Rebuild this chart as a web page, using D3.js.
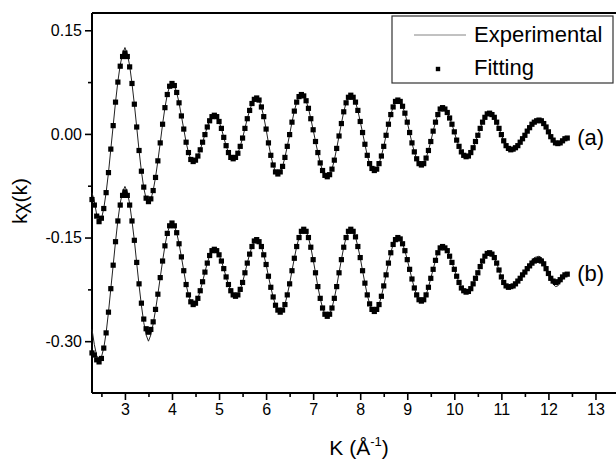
<!DOCTYPE html>
<html lang="en">
<head>
    <meta charset="UTF-8">
    <title>EXAFS k-weighted chi(k)</title>
    <script src="https://d3js.org/d3.v7.min.js"></script>
    <style>
        body { margin: 0; background: #fff; }
        svg { display: block; font-family: "Liberation Sans", Arial, sans-serif; }
        .tick-label { font-size: 16px; fill: #000; }
        .axis-title { font-size: 21px; fill: #000; }
        .legend-text { font-size: 22px; fill: #000; }
    </style>
</head>
<body>
<svg width="616" height="461"></svg>
<script>
    // k grid (1/Angstrom)
    const kGrid = [
        2.30,2.35,2.40,2.45,2.50,2.55,2.60,2.65,2.70,2.75,
        2.80,2.85,2.90,2.95,3.00,3.05,3.10,3.15,3.20,3.25,
        3.30,3.35,3.40,3.45,3.50,3.55,3.60,3.65,3.70,3.75,
        3.80,3.85,3.90,3.95,4.00,4.05,4.10,4.15,4.20,4.25,
        4.30,4.35,4.40,4.45,4.50,4.55,4.60,4.65,4.70,4.75,
        4.80,4.85,4.90,4.95,5.00,5.05,5.10,5.15,5.20,5.25,
        5.30,5.35,5.40,5.45,5.50,5.55,5.60,5.65,5.70,5.75,
        5.80,5.85,5.90,5.95,6.00,6.05,6.10,6.15,6.20,6.25,
        6.30,6.35,6.40,6.45,6.50,6.55,6.60,6.65,6.70,6.75,
        6.80,6.85,6.90,6.95,7.00,7.05,7.10,7.15,7.20,7.25,
        7.30,7.35,7.40,7.45,7.50,7.55,7.60,7.65,7.70,7.75,
        7.80,7.85,7.90,7.95,8.00,8.05,8.10,8.15,8.20,8.25,
        8.30,8.35,8.40,8.45,8.50,8.55,8.60,8.65,8.70,8.75,
        8.80,8.85,8.90,8.95,9.00,9.05,9.10,9.15,9.20,9.25,
        9.30,9.35,9.40,9.45,9.50,9.55,9.60,9.65,9.70,9.75,
        9.80,9.85,9.90,9.95,10.00,10.05,10.10,10.15,10.20,10.25,
        10.30,10.35,10.40,10.45,10.50,10.55,10.60,10.65,10.70,10.75,
        10.80,10.85,10.90,10.95,11.00,11.05,11.10,11.15,11.20,11.25,
        11.30,11.35,11.40,11.45,11.50,11.55,11.60,11.65,11.70,11.75,
        11.80,11.85,11.90,11.95,12.00,12.05,12.10,12.15,12.20,12.25,
        12.30,12.35,12.40
    ];

    // sample (a), fitted values
    const fitA = [
        -0.095,-0.103,-0.119,-0.127,-0.122,-0.108,-0.085,-0.056,-0.022,0.012,
        0.046,0.075,0.098,0.112,0.117,0.112,0.097,0.073,0.043,0.010,
        -0.024,-0.054,-0.077,-0.093,-0.098,-0.094,-0.082,-0.063,-0.039,-0.013,
        0.014,0.038,0.057,0.069,0.073,0.070,0.060,0.045,0.026,0.007,
        -0.012,-0.027,-0.037,-0.040,-0.038,-0.032,-0.023,-0.012,-0.001,0.010,
        0.019,0.025,0.027,0.025,0.018,0.008,-0.005,-0.017,-0.027,-0.034,
        -0.036,-0.034,-0.028,-0.018,-0.006,0.008,0.022,0.034,0.044,0.050,
        0.052,0.049,0.039,0.025,0.007,-0.013,-0.031,-0.045,-0.055,-0.058,
        -0.055,-0.047,-0.034,-0.018,-0.001,0.017,0.033,0.046,0.054,0.057,
        0.055,0.048,0.037,0.022,0.006,-0.011,-0.027,-0.042,-0.053,-0.060,
        -0.062,-0.059,-0.051,-0.038,-0.021,-0.003,0.015,0.032,0.045,0.053,
        0.056,0.053,0.046,0.034,0.018,0.002,-0.015,-0.031,-0.043,-0.050,
        -0.053,-0.051,-0.043,-0.032,-0.018,-0.002,0.014,0.028,0.039,0.047,
        0.049,0.047,0.040,0.030,0.017,0.002,-0.013,-0.026,-0.036,-0.043,
        -0.045,-0.043,-0.035,-0.024,-0.011,0.004,0.017,0.028,0.036,0.038,
        0.036,0.031,0.023,0.014,0.003,-0.009,-0.018,-0.026,-0.031,-0.033,
        -0.032,-0.027,-0.020,-0.011,-0.002,0.008,0.017,0.024,0.029,0.030,
        0.028,0.024,0.017,0.008,-0.001,-0.010,-0.017,-0.021,-0.023,-0.022,
        -0.020,-0.017,-0.012,-0.007,-0.002,0.004,0.009,0.014,0.017,0.019,
        0.020,0.019,0.015,0.010,0.003,-0.004,-0.009,-0.013,-0.014,-0.013,
        -0.010,-0.007,-0.006
    ];

    // sample (a), experimental values
    const expA = [
        -0.085,-0.098,-0.117,-0.127,-0.123,-0.108,-0.085,-0.056,-0.022,0.012,
        0.046,0.076,0.100,0.116,0.125,0.116,0.099,0.073,0.043,0.010,
        -0.024,-0.054,-0.078,-0.094,-0.100,-0.095,-0.082,-0.063,-0.039,-0.013,
        0.014,0.038,0.057,0.069,0.073,0.070,0.060,0.045,0.026,0.007,
        -0.012,-0.027,-0.037,-0.040,-0.038,-0.032,-0.023,-0.012,-0.001,0.010,
        0.019,0.025,0.027,0.025,0.018,0.008,-0.005,-0.017,-0.027,-0.034,
        -0.036,-0.034,-0.028,-0.018,-0.006,0.008,0.022,0.034,0.044,0.050,
        0.052,0.049,0.039,0.025,0.007,-0.013,-0.031,-0.045,-0.055,-0.058,
        -0.055,-0.047,-0.034,-0.018,-0.001,0.017,0.033,0.046,0.054,0.057,
        0.055,0.048,0.037,0.022,0.006,-0.011,-0.027,-0.042,-0.053,-0.060,
        -0.062,-0.059,-0.051,-0.038,-0.021,-0.003,0.015,0.032,0.045,0.053,
        0.056,0.053,0.046,0.034,0.018,0.002,-0.015,-0.031,-0.043,-0.050,
        -0.053,-0.051,-0.043,-0.032,-0.018,-0.002,0.014,0.028,0.039,0.047,
        0.049,0.047,0.040,0.030,0.017,0.002,-0.013,-0.026,-0.036,-0.043,
        -0.045,-0.043,-0.035,-0.024,-0.011,0.004,0.017,0.028,0.036,0.038,
        0.036,0.031,0.023,0.014,0.003,-0.009,-0.018,-0.026,-0.031,-0.033,
        -0.032,-0.027,-0.020,-0.011,-0.002,0.008,0.017,0.024,0.029,0.030,
        0.028,0.024,0.017,0.008,-0.001,-0.010,-0.017,-0.021,-0.023,-0.022,
        -0.020,-0.017,-0.012,-0.007,-0.002,0.004,0.009,0.014,0.017,0.019,
        0.020,0.019,0.015,0.010,0.003,-0.004,-0.009,-0.013,-0.015,-0.014,
        -0.011,-0.009,-0.008
    ];

    // sample (b), fitted values (shifted down in the plot)
    const fitB = [
        -0.317,-0.320,-0.327,-0.330,-0.325,-0.310,-0.288,-0.258,-0.224,-0.190,
        -0.156,-0.126,-0.103,-0.089,-0.084,-0.089,-0.103,-0.126,-0.154,-0.186,
        -0.217,-0.245,-0.268,-0.282,-0.287,-0.283,-0.272,-0.254,-0.232,-0.208,
        -0.184,-0.162,-0.144,-0.133,-0.129,-0.133,-0.143,-0.159,-0.178,-0.198,
        -0.218,-0.233,-0.243,-0.247,-0.245,-0.238,-0.227,-0.214,-0.200,-0.187,
        -0.176,-0.169,-0.167,-0.169,-0.175,-0.184,-0.195,-0.207,-0.218,-0.227,
        -0.233,-0.235,-0.233,-0.225,-0.215,-0.201,-0.187,-0.174,-0.163,-0.155,
        -0.153,-0.156,-0.163,-0.175,-0.189,-0.206,-0.222,-0.236,-0.248,-0.255,
        -0.258,-0.255,-0.247,-0.233,-0.217,-0.198,-0.180,-0.163,-0.150,-0.141,
        -0.138,-0.141,-0.150,-0.164,-0.182,-0.201,-0.221,-0.238,-0.252,-0.261,
        -0.264,-0.261,-0.252,-0.238,-0.221,-0.201,-0.182,-0.164,-0.150,-0.141,
        -0.138,-0.141,-0.149,-0.163,-0.179,-0.198,-0.216,-0.233,-0.246,-0.254,
        -0.257,-0.254,-0.247,-0.235,-0.220,-0.204,-0.187,-0.172,-0.160,-0.153,
        -0.150,-0.152,-0.159,-0.169,-0.182,-0.196,-0.210,-0.223,-0.233,-0.240,
        -0.242,-0.240,-0.233,-0.222,-0.209,-0.196,-0.183,-0.172,-0.165,-0.163,
        -0.165,-0.169,-0.177,-0.186,-0.196,-0.206,-0.215,-0.223,-0.227,-0.229,
        -0.228,-0.224,-0.217,-0.209,-0.201,-0.192,-0.184,-0.177,-0.173,-0.172,
        -0.174,-0.179,-0.187,-0.197,-0.207,-0.215,-0.220,-0.222,-0.221,-0.220,
        -0.217,-0.213,-0.209,-0.204,-0.200,-0.195,-0.191,-0.187,-0.184,-0.183,
        -0.182,-0.184,-0.188,-0.195,-0.202,-0.209,-0.213,-0.215,-0.214,-0.211,
        -0.207,-0.204,-0.203
    ];

    // sample (b), experimental values
    const expB = [
        -0.283,-0.305,-0.321,-0.326,-0.323,-0.310,-0.288,-0.258,-0.224,-0.190,
        -0.156,-0.125,-0.100,-0.084,-0.076,-0.084,-0.101,-0.126,-0.154,-0.187,
        -0.219,-0.248,-0.273,-0.291,-0.300,-0.291,-0.275,-0.255,-0.232,-0.208,
        -0.184,-0.162,-0.144,-0.133,-0.129,-0.133,-0.143,-0.159,-0.178,-0.198,
        -0.218,-0.233,-0.243,-0.247,-0.245,-0.238,-0.227,-0.214,-0.200,-0.187,
        -0.176,-0.169,-0.167,-0.169,-0.175,-0.184,-0.195,-0.207,-0.218,-0.227,
        -0.233,-0.235,-0.233,-0.225,-0.215,-0.201,-0.187,-0.174,-0.163,-0.155,
        -0.153,-0.156,-0.163,-0.175,-0.189,-0.206,-0.222,-0.236,-0.248,-0.255,
        -0.258,-0.255,-0.247,-0.233,-0.217,-0.198,-0.180,-0.163,-0.150,-0.141,
        -0.138,-0.141,-0.150,-0.164,-0.182,-0.201,-0.221,-0.238,-0.252,-0.261,
        -0.264,-0.261,-0.252,-0.238,-0.221,-0.201,-0.182,-0.164,-0.150,-0.141,
        -0.138,-0.141,-0.149,-0.163,-0.179,-0.198,-0.216,-0.233,-0.246,-0.254,
        -0.257,-0.254,-0.247,-0.235,-0.220,-0.204,-0.187,-0.172,-0.160,-0.153,
        -0.150,-0.152,-0.159,-0.169,-0.182,-0.196,-0.210,-0.223,-0.233,-0.240,
        -0.242,-0.240,-0.233,-0.222,-0.209,-0.196,-0.183,-0.172,-0.165,-0.163,
        -0.165,-0.169,-0.177,-0.186,-0.196,-0.206,-0.215,-0.223,-0.227,-0.229,
        -0.228,-0.224,-0.217,-0.209,-0.201,-0.192,-0.184,-0.177,-0.173,-0.172,
        -0.174,-0.179,-0.187,-0.197,-0.207,-0.215,-0.220,-0.222,-0.221,-0.220,
        -0.217,-0.213,-0.208,-0.203,-0.198,-0.193,-0.188,-0.183,-0.179,-0.178,
        -0.177,-0.179,-0.185,-0.194,-0.203,-0.211,-0.217,-0.221,-0.220,-0.215,
        -0.209,-0.205,-0.203
    ];

    // axis ticks
    const xMajorTicks = [3, 4, 5, 6, 7, 8, 9, 10, 11, 12, 13];
    const xMinorTicks = [2.5, 3.5, 4.5, 5.5, 6.5, 7.5, 8.5, 9.5, 10.5, 11.5, 12.5, 13.5];
    const yMajorTicks = [0.15, 0.00, -0.15, -0.30];
    const yTickLabels = ["0.15", "0.00", "-0.15", "-0.30"];
    const yMinorTicks = [0.075, -0.075, -0.225];
    const seriesLabels = [
        { text: "(a)", k: 12.4, v: -0.006 },
        { text: "(b)", k: 12.4, v: -0.203 }
    ];

    const svg = d3.select("svg");
    const plotLeft = 92, plotTop = 13, plotBottom = 393, plotRight = 619;

    const x = d3.scaleLinear().domain([2.3, 13.5]).range([plotLeft, plotRight]);
    const y = d3.scaleLinear().domain([-0.375, 0.175]).range([plotBottom, plotTop]);

    // frame: left, bottom and top lines (right side runs off the page)
    const frame = svg.append("g").attr("stroke", "#000").attr("stroke-width", 2);
    frame.append("line").attr("x1", plotLeft).attr("x2", plotLeft).attr("y1", plotTop).attr("y2", plotBottom);
    frame.append("line").attr("x1", plotLeft).attr("x2", 620).attr("y1", plotBottom).attr("y2", plotBottom);
    frame.append("line").attr("x1", plotLeft).attr("x2", 620).attr("y1", plotTop).attr("y2", plotTop);

    // x axis
    const xAxis = d3.axisBottom(x).tickValues(xMajorTicks).tickSize(7).tickPadding(4)
        .tickFormat(d3.format("d"));
    const gx = svg.append("g").attr("transform", `translate(0,${plotBottom})`).call(xAxis);
    gx.select(".domain").remove();
    gx.selectAll("line").attr("stroke-width", 1.6);
    gx.attr("font-family", null).attr("font-size", null);
    gx.selectAll("text").attr("class", "tick-label");

    const gxMinor = svg.append("g").attr("transform", `translate(0,${plotBottom})`)
        .call(d3.axisBottom(x).tickValues(xMinorTicks).tickSize(4).tickFormat(""));
    gxMinor.select(".domain").remove();
    gxMinor.selectAll("line").attr("stroke-width", 1.6);

    // y axis
    const yAxis = d3.axisLeft(y).tickValues(yMajorTicks).tickSize(7).tickPadding(3)
        .tickFormat((d, i) => yTickLabels[i]);
    const gy = svg.append("g").attr("transform", `translate(${plotLeft},0)`).call(yAxis);
    gy.select(".domain").remove();
    gy.selectAll("line").attr("stroke-width", 1.6);
    gy.attr("font-family", null).attr("font-size", null);
    gy.selectAll("text").attr("class", "tick-label");

    const gyMinor = svg.append("g").attr("transform", `translate(${plotLeft},0)`)
        .call(d3.axisLeft(y).tickValues(yMinorTicks).tickSize(4).tickFormat(""));
    gyMinor.select(".domain").remove();
    gyMinor.selectAll("line").attr("stroke-width", 1.6);

    // axis titles
    svg.append("text")
        .attr("class", "axis-title")
        .attr("transform", `translate(27,201) rotate(-90)`)
        .attr("text-anchor", "middle")
        .text("kχ(k)");

    const xt = svg.append("text")
        .attr("class", "axis-title")
        .attr("x", 359).attr("y", 455)
        .attr("text-anchor", "middle");
    xt.append("tspan").text("K (Å");
    xt.append("tspan").attr("font-size", "13px").attr("dy", -9).text("-1");
    xt.append("tspan").attr("dy", 9).text(")");

    // curves
    const series = [
        { exp: expA, fit: fitA },
        { exp: expB, fit: fitB }
    ];

    const line = d3.line()
        .x((d, i) => x(kGrid[i]))
        .y(d => y(d));

    const markSize = 5.2;
    series.forEach(s => {
        svg.append("path")
            .datum(s.exp)
            .attr("fill", "none")
            .attr("stroke", "#222")
            .attr("stroke-width", 1)
            .attr("d", line);

        svg.append("g").selectAll("rect")
            .data(s.fit)
            .join("rect")
            .attr("x", (d, i) => x(kGrid[i]) - markSize / 2)
            .attr("y", d => y(d) - markSize / 2)
            .attr("width", markSize)
            .attr("height", markSize)
            .attr("fill", "#000");
    });

    // (a) / (b) labels next to curve ends
    svg.selectAll(".series-label")
        .data(seriesLabels)
        .join("text")
        .attr("class", "legend-text series-label")
        .attr("x", d => x(d.k) + 10)
        .attr("y", d => y(d.v) + 7)
        .text(d => d.text);

    // legend
    const lg = svg.append("g");
    lg.append("rect")
        .attr("x", 392).attr("y", 16)
        .attr("width", 221).attr("height", 67)
        .attr("fill", "#fff").attr("stroke", "#333").attr("stroke-width", 1.2);
    lg.append("line")
        .attr("x1", 414).attr("x2", 466).attr("y1", 35).attr("y2", 35)
        .attr("stroke", "#777").attr("stroke-width", 0.9);
    lg.append("text").attr("class", "legend-text").attr("x", 474).attr("y", 42).text("Experimental");
    lg.append("rect")
        .attr("x", 438 - 2.2).attr("y", 69 - 2.2)
        .attr("width", 4.4).attr("height", 4.4).attr("fill", "#000");
    lg.append("text").attr("class", "legend-text").attr("x", 474).attr("y", 75).text("Fitting");
</script>
</body>
</html>
